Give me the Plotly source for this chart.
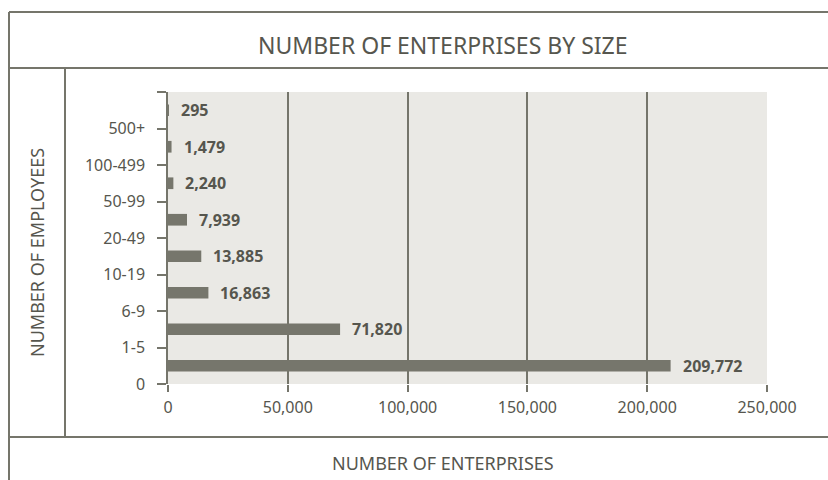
import plotly.graph_objects as go

categories = ["0", "1-5", "6-9", "10-19", "20-49", "50-99", "100-499", "500+"]
enterprises = [209772, 71820, 16863, 13885, 7939, 2240, 1479, 295]
x_ticks = [0, 50000, 100000, 150000, 200000, 250000]

W, H = 828, 480
L, R, T, B = 168, 61, 92, 96
PW, PH = W - L - R, H - T - B


def px_x(px):
    return (px - L) / PW


def px_y(py):
    return (H - B - py) / PH


text_col = "#56564e"
line_col = "#75756b"
bar_col = "#76766c"
font_fam = "Noto Sans, Open Sans, DejaVu Sans, sans-serif"

pos = [i + 0.5 for i in range(len(categories))]

fig = go.Figure()
fig.add_trace(go.Bar(
    x=enterprises, y=pos, orientation="h", width=0.32,
    marker=dict(color=bar_col, line=dict(width=0)),
    hoverinfo="x",
))

for v, p in zip(enterprises, pos):
    fig.add_annotation(x=v, y=p, xref="x", yref="y", text=f"<b>{v:,}</b>",
                       showarrow=False, xanchor="left", yanchor="middle", xshift=10,
                       font=dict(size=16, color=text_col, family=font_fam))

frame = [
    (9, 12, 828, 12),
    (9, 12, 9, 480),
    (9, 68, 828, 68),
    (65, 68, 65, 437),
    (9, 437, 828, 437),
]
for x0, y0, x1, y1 in frame:
    fig.add_shape(type="line", xref="paper", yref="paper",
                  x0=px_x(x0), y0=px_y(y0), x1=px_x(x1), y1=px_y(y1),
                  line=dict(color=line_col, width=2))

fig.add_annotation(x=px_x(443), y=px_y(45), xref="paper", yref="paper",
                   text="NUMBER OF ENTERPRISES BY SIZE", showarrow=False,
                   xanchor="center", yanchor="middle",
                   font=dict(size=23, color=text_col, family=font_fam))
fig.add_annotation(x=px_x(443), y=px_y(463), xref="paper", yref="paper",
                   text="NUMBER OF ENTERPRISES", showarrow=False,
                   xanchor="center", yanchor="middle",
                   font=dict(size=18, color=text_col, family=font_fam))
fig.add_annotation(x=px_x(37), y=px_y(253), xref="paper", yref="paper",
                   text="NUMBER OF EMPLOYEES", showarrow=False, textangle=-90,
                   xanchor="center", yanchor="middle",
                   font=dict(size=18, color=text_col, family=font_fam))

fig.update_layout(
    width=W, height=H,
    margin=dict(l=L, r=R, t=T, b=B),
    paper_bgcolor="white", plot_bgcolor="#eae9e5",
    showlegend=False,
    font=dict(family=font_fam, size=16, color=text_col),
    xaxis=dict(range=[0, 250000], tickvals=x_ticks,
               ticktext=[f"{v:,}" for v in x_ticks],
               showgrid=True, gridcolor=line_col, gridwidth=1.5,
               ticks="outside", ticklen=7, tickcolor=line_col, tickwidth=1.5,
               ticklabelstandoff=2,
               showline=False, zeroline=False, fixedrange=True,
               tickfont=dict(size=16, color=text_col)),
    yaxis=dict(range=[0, len(categories)],
               tickvals=list(range(len(categories) + 1)),
               ticktext=categories + [""],
               showgrid=False, zeroline=False,
               showline=True, linecolor=line_col, linewidth=1.5,
               ticks="outside", ticklen=9, tickcolor=line_col, tickwidth=1.5,
               ticklabelstandoff=9,
               fixedrange=True, tickfont=dict(size=16, color=text_col)),
)

fig.write_html("out.html")
